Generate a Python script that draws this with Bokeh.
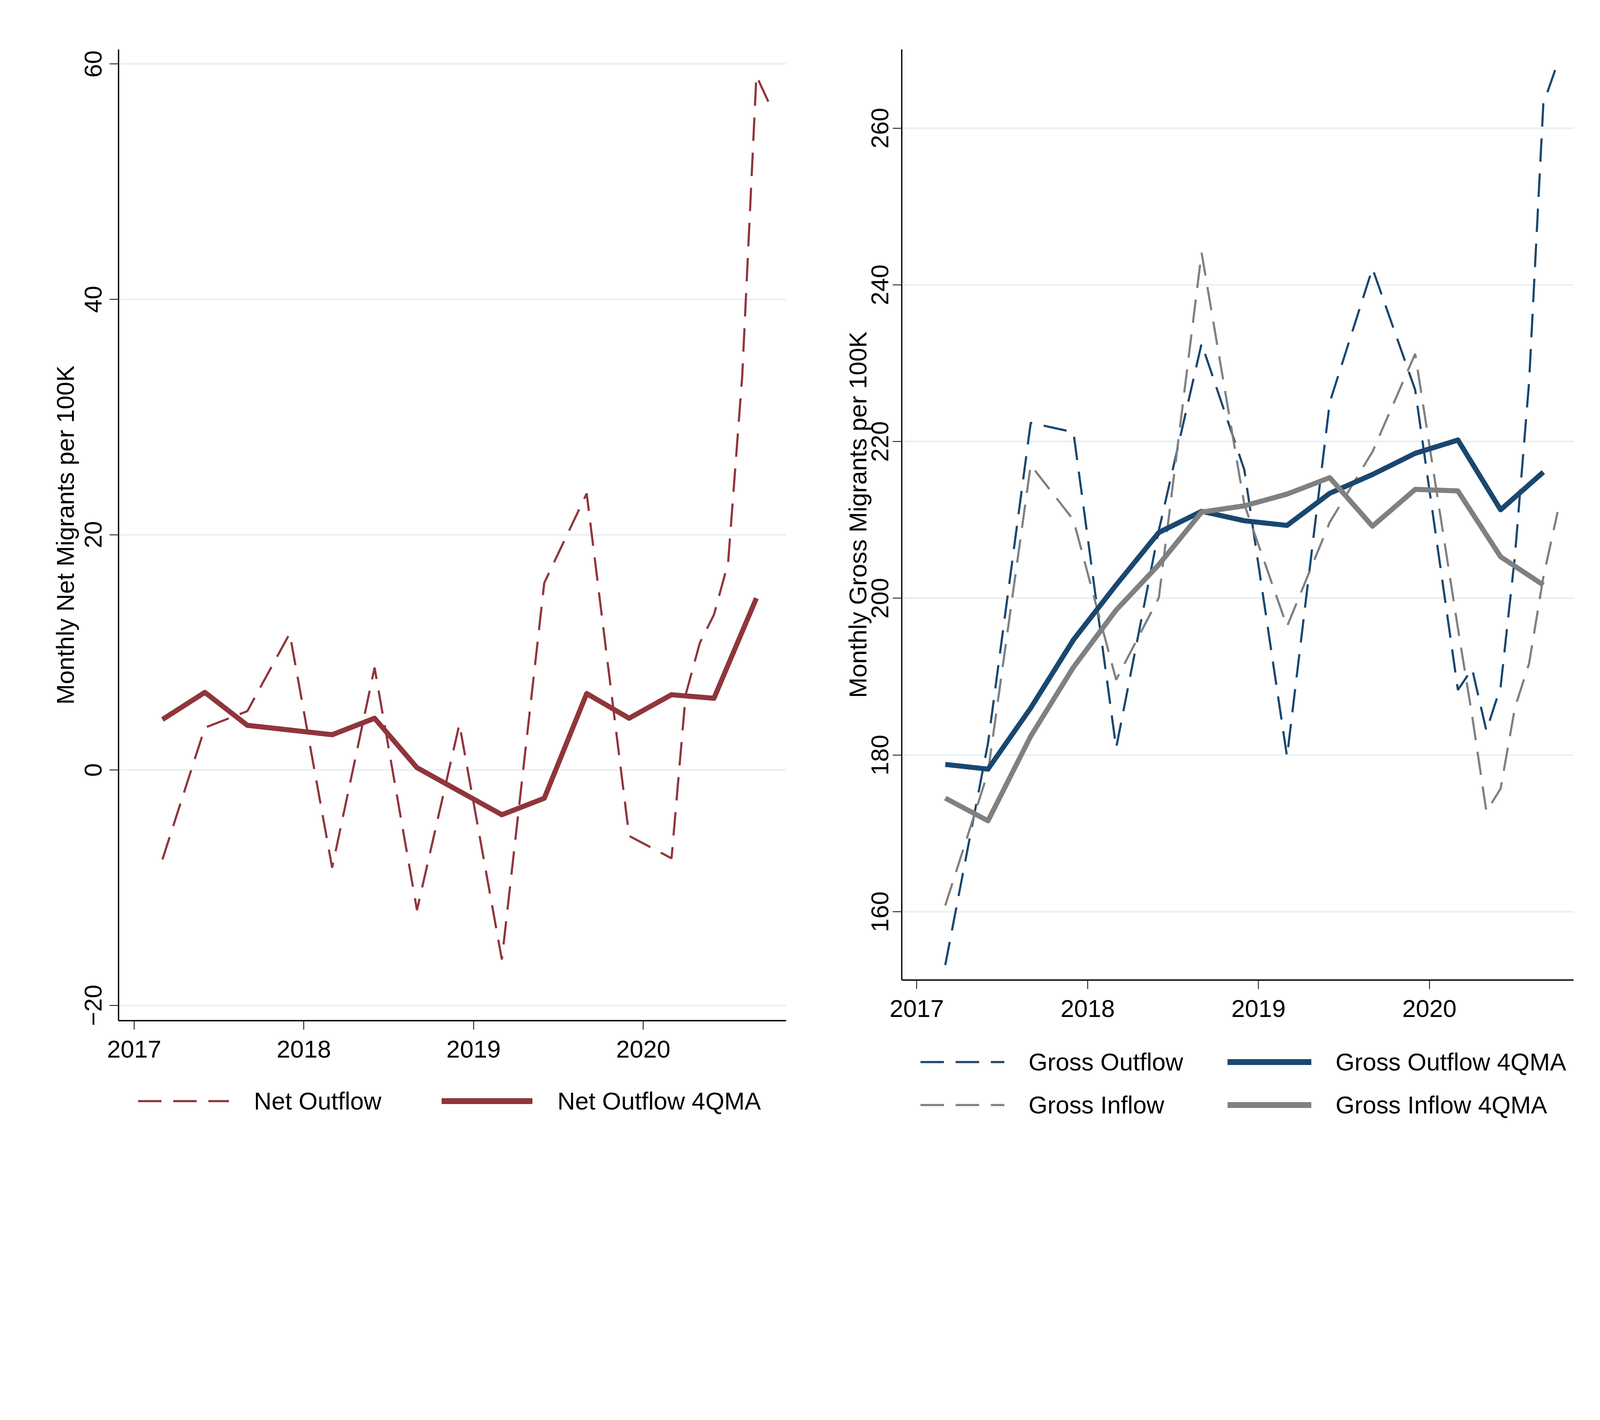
from bokeh.plotting import figure
from bokeh.layouts import row, column
from bokeh.models import Legend, LegendItem, FixedTicker, Range1d
from bokeh.embed import file_html
from bokeh.resources import INLINE

# ---------------- data ----------------
# observation dates (year, month): quarterly to Mar 2020, then monthly
obs_year = [2017, 2017, 2017, 2017, 2018, 2018, 2018, 2018, 2019, 2019, 2019, 2019,
            2020, 2020, 2020, 2020, 2020, 2020, 2020, 2020]
obs_month = [3, 6, 9, 12, 3, 6, 9, 12, 3, 6, 9, 12, 3, 4, 5, 6, 7, 8, 9, 10]

net_outflow = [-7.6, 3.6, 5.0, 11.6, -8.3, 8.7, -11.9, 3.9, -16.1, 15.9, 23.5, -5.6,
               -7.5, 6.4, 10.8, 13.2, 17.6, 33.5, 59.0, 56.4]
gross_outflow = [153.2, 181.5, 222.4, 221.2, 180.9, 208.7, 232.5, 216.4, 179.8, 225.0,
                 242.1, 226.6, 188.3, 191.0, 183.1, 188.7, 205.3, 227.6, 263.1, 268.3]
gross_inflow = [160.8, 177.8, 217.0, 210.0, 189.6, 200.1, 244.1, 212.0, 196.4, 209.7,
                218.7, 231.2, 196.2, 185.0, 172.8, 175.7, 186.0, 191.7, 202.7, 211.0]

# 4-quarter moving averages (quarterly)
ma_year = [2017, 2017, 2017, 2017, 2018, 2018, 2018, 2018, 2019, 2019, 2019, 2019,
           2020, 2020, 2020]
ma_month = [3, 6, 9, 12, 3, 6, 9, 12, 3, 6, 9, 12, 3, 6, 9]
net_outflow_4qma = [4.3, 6.6, 3.8, 3.4, 3.0, 4.4, 0.2, -1.8, -3.8, -2.4, 6.5, 4.4,
                    6.4, 6.1, 14.6]
gross_outflow_4qma = [178.8, 178.2, 186.0, 194.7, 201.7, 208.4, 211.1, 209.9, 209.3,
                      213.4, 215.8, 218.5, 220.2, 211.3, 216.1]
gross_inflow_4qma = [174.5, 171.6, 182.4, 191.2, 198.5, 204.3, 211.0, 211.8, 213.3,
                     215.4, 209.2, 213.9, 213.7, 205.3, 201.7]

year_ticks = [2017, 2018, 2019, 2020]
net_ticks = [-20, 0, 20, 40, 60]
gross_ticks = [160, 180, 200, 220, 240, 260]

# ---------------- styling ----------------
FONT = "Liberation Sans"
MAROON = "#90353B"
NAVY = "#1A476F"
GRAY = "#808080"
GRID = "#EAF2F3"
DASH = "60 30"
THIN = 5.5
THICK = 13
KEY_THICK = 15
TICK_FS = "62.5px"
LABEL_FS = "63px"
W = 2075
TOTAL_H = 3014

obs_x = [y + (m - 1) / 12 for y, m in zip(obs_year, obs_month)]
ma_x = [y + (m - 1) / 12 for y, m in zip(ma_year, ma_month)]


def make_fig(h, bl, br, xr, yr, yticks, ylabel, tick_standoff, label_standoff):
    p = figure(width=W, height=h, x_range=Range1d(*xr), y_range=Range1d(*yr),
               output_backend="svg", toolbar_location=None,
               min_border_left=bl, min_border_right=br, min_border_top=126,
               min_border_bottom=130, align="start")
    p.outline_line_color = None
    p.background_fill_color = "white"
    p.border_fill_color = "white"
    p.xgrid.visible = False
    p.ygrid.grid_line_color = GRID
    p.ygrid.grid_line_width = 5
    p.xaxis.ticker = FixedTicker(ticks=year_ticks)
    p.yaxis.ticker = FixedTicker(ticks=yticks)
    for ax in (p.xaxis[0], p.yaxis[0]):
        ax.axis_line_width = 3.3
        ax.axis_line_color = "black"
        ax.major_tick_line_width = 2
        ax.major_tick_line_color = "black"
        ax.major_tick_out = 23
        ax.major_tick_in = 0
        ax.minor_tick_line_color = None
        ax.major_label_text_font = FONT
        ax.major_label_text_font_size = TICK_FS
        ax.major_label_text_color = "black"
        ax.axis_label_text_font = FONT
        ax.axis_label_text_font_size = LABEL_FS
        ax.axis_label_text_font_style = "normal"
        ax.axis_label_text_color = "black"
    p.xaxis.major_label_standoff = 28
    p.yaxis.major_label_orientation = "vertical"
    p.yaxis.major_label_standoff = tick_standoff
    p.yaxis.axis_label = ylabel
    p.yaxis.axis_label_standoff = label_standoff
    return p


def make_key_fig(h, bl, br):
    # legend-only panel; its ranges exclude the data so only the key is drawn
    k = figure(width=W, height=h, x_range=Range1d(0, 1), y_range=Range1d(0, 1),
               output_backend="svg", toolbar_location=None,
               x_axis_location=None, y_axis_location=None,
               min_border_left=bl, min_border_right=br, min_border_top=0,
               min_border_bottom=0, align="start")
    k.outline_line_color = None
    k.grid.visible = False
    k.background_fill_color = "white"
    k.border_fill_color = "white"
    return k


def make_legend(items, loc, glyph_w, label_w, standoff, spacing):
    return Legend(items=items, orientation="horizontal", location=loc,
                  glyph_width=glyph_w, glyph_height=20, label_width=label_w,
                  label_height=80, label_standoff=standoff, spacing=spacing,
                  padding=0, margin=0, border_line_color=None,
                  background_fill_alpha=0, label_text_font=FONT,
                  label_text_font_size=TICK_FS, label_text_color="black",
                  label_text_baseline="middle")


# ---------------- left panel ----------------
H1 = 2743
p1 = make_fig(H1, 303, 63, (2016.908, 2020.842), (-21.3, 61.24), net_ticks,
              "Monthly Net Migrants per 100K", 20, 13)
p1.line(obs_x, net_outflow, line_color=MAROON, line_width=THIN, line_dash=DASH)
p1.line(ma_x, net_outflow_4qma, line_color=MAROON, line_width=THICK,
        line_join="round")

k1 = make_key_fig(TOTAL_H - H1, 303, 63)
kr1 = k1.line(obs_x, net_outflow, line_color=MAROON, line_width=THIN, line_dash=DASH)
kr2 = k1.line(ma_x, net_outflow_4qma, line_color=MAROON, line_width=KEY_THICK)
k1.add_layout(make_legend([LegendItem(label="Net Outflow", renderers=[kr1]),
                           LegendItem(label="Net Outflow 4QMA", renderers=[kr2])],
                          (50, 155), 233, 330, 64, 150))

# ---------------- right panel ----------------
H2 = 2639
p2 = make_fig(H2, 233, 122, (2016.912, 2020.844), (151.28, 270.05), gross_ticks,
              "Monthly Gross Migrants per 100K", 11, -2)
p2.line(obs_x, gross_outflow, line_color=NAVY, line_width=THIN, line_dash=DASH)
p2.line(obs_x, gross_inflow, line_color=GRAY, line_width=THIN, line_dash=DASH)
p2.line(ma_x, gross_outflow_4qma, line_color=NAVY, line_width=THICK, line_join="round")
p2.line(ma_x, gross_inflow_4qma, line_color=GRAY, line_width=THICK, line_join="round")

k2 = make_key_fig(TOTAL_H - H2, 233, 122)
kg1 = k2.line(obs_x, gross_outflow, line_color=NAVY, line_width=THIN, line_dash=DASH)
kg2 = k2.line(obs_x, gross_inflow, line_color=GRAY, line_width=THIN, line_dash=DASH)
kg3 = k2.line(ma_x, gross_outflow_4qma, line_color=NAVY, line_width=KEY_THICK)
kg4 = k2.line(ma_x, gross_inflow_4qma, line_color=GRAY, line_width=KEY_THICK)
k2.add_layout(make_legend([LegendItem(label="Gross Outflow", renderers=[kg1]),
                           LegendItem(label="Gross Outflow 4QMA", renderers=[kg3])],
                          (48, 255), 215, 400, 62, 109))
k2.add_layout(make_legend([LegendItem(label="Gross Inflow", renderers=[kg2]),
                           LegendItem(label="Gross Inflow 4QMA", renderers=[kg4])],
                          (48, 145), 215, 400, 62, 109))

layout = row(column(p1, k1), column(p2, k2))
open("out.html", "w").write(file_html(layout, INLINE))
